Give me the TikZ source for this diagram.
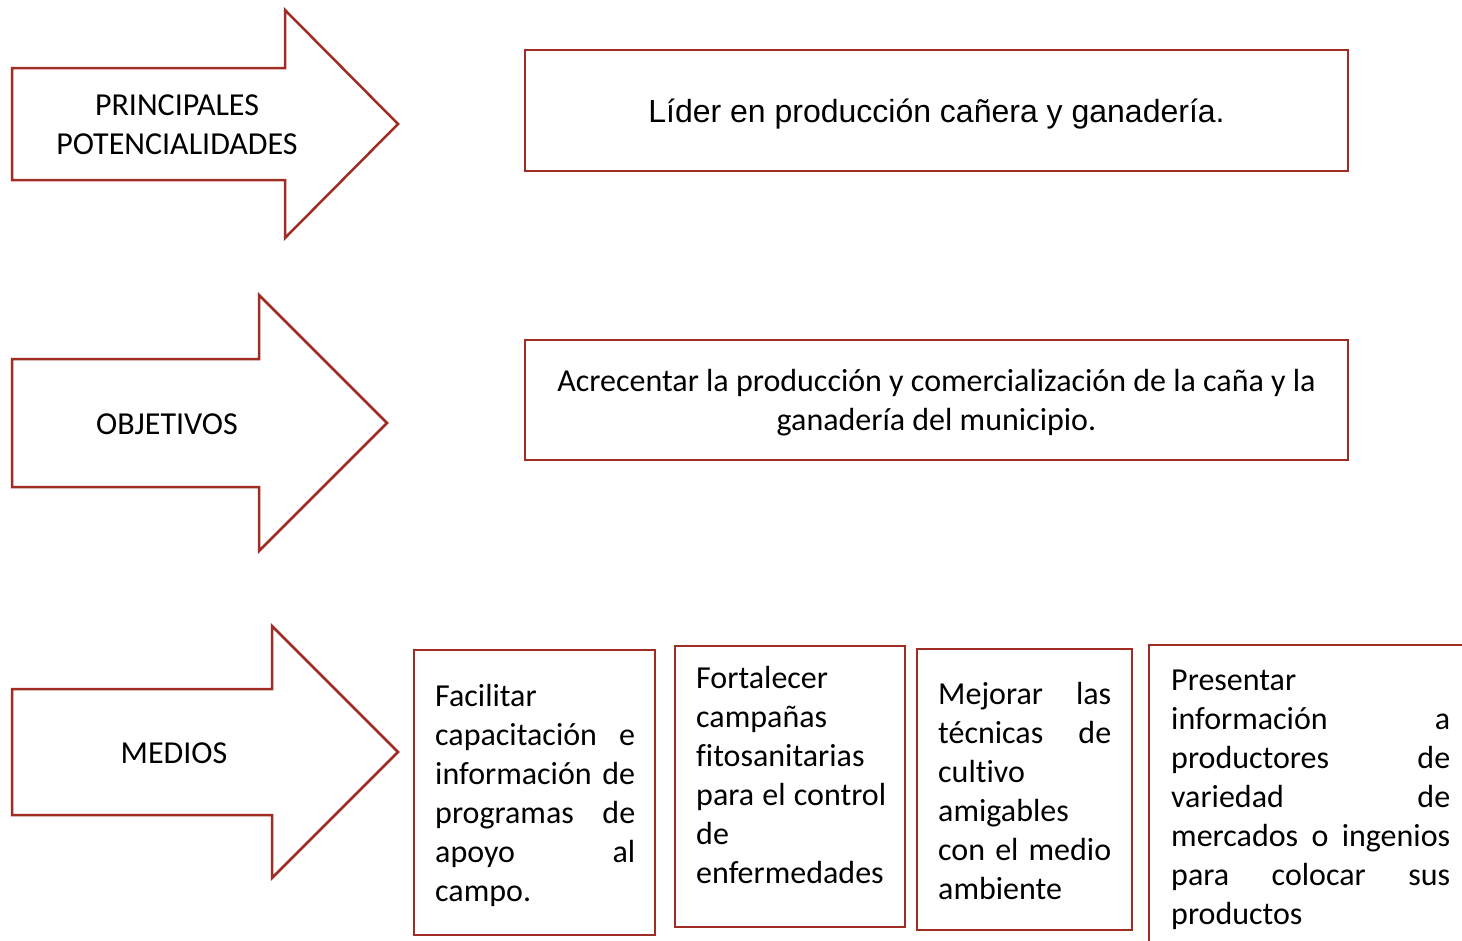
\documentclass[tikz,border=0pt]{standalone}
\usepackage{fontspec}
\setmainfont{Carlito}[Ligatures=NoCommon]
\newfontfamily\arialfont{Liberation Sans}
\usetikzlibrary{positioning}
\definecolor{mred}{RGB}{160,45,35}

\begin{document}
\begin{tikzpicture}[x=1pt,y=-1pt,
  frame/.style={draw=mred,line width=2.5pt,line join=miter},
  box/.style={frame,inner sep=0pt},
  lbl/.style={inner sep=0pt,align=center,font=\fontsize{32}{39}\selectfont},
  txt/.style={inner sep=0pt,anchor=base west,align=left,font=\fontsize{32}{39}\selectfont}
]
\useasboundingbox (0,0) rectangle (1462,940);
\clip (0,0) rectangle (1462,940);

% flechas
\draw[frame] (12,68) -- (285,68) -- (285,10) -- (398,124) -- (285,238) -- (285,180) -- (12,180) -- cycle;
\draw[frame] (12,359) -- (259,359) -- (259,295) -- (387,423) -- (259,551) -- (259,487) -- (12,487) -- cycle;
\draw[frame] (12,689) -- (272,689) -- (272,626) -- (398,752) -- (272,878) -- (272,815) -- (12,815) -- cycle;
\node[lbl] (pot) at (177,124.5) {PRINCIPALES\\POTENCIALIDADES};
\node[lbl] (obj) at (167,424) {OBJETIVOS};
\node[lbl] (med) at (174,753) {MEDIOS};

% cajas
\node[box,minimum width=823pt,minimum height=121pt] (lider) at (936.5,110.5) {};
\node[box,minimum width=823pt,minimum height=120pt] (acre) at (936.5,400) {};
\node[box,minimum width=241pt,minimum height=285pt] (m1) at (534.5,792.5) {};
\node[box,minimum width=230pt,minimum height=281pt] (m2) at (790,786.5) {};
\node[box,minimum width=215pt,minimum height=281pt] (m3) at (1024.5,789.5) {};
\node[box,minimum width=341pt,minimum height=315pt] (m4) at (1319.5,802.5) {};
\node[lbl,font=\arialfont\fontsize{32}{39}\selectfont,yshift=-4pt] (lidertxt) at (lider.center) {Líder en producción cañera y ganadería.};
\node[lbl,yshift=-3pt] (acretxt) at (acre.center) {Acrecentar la producción y comercialización de la caña y la\\ganadería del municipio.};

% textos de los medios
\node[txt,text width=200pt] (t1) at (435,706) {Facilitar\\capacitación\hfill e\\información\hfill de\\programas\hfill de\\apoyo\hfill al\\campo.};
\node[txt,text width=190pt] (t2) at (696,688) {Fortalecer\\campañas\\fitosanitarias\\para\hfill el\hfill control\\de\\enfermedades};
\node[txt,text width=173pt] (t3) at (938,704) {Mejorar\hfill las\\técnicas\hfill de\\cultivo\\amigables\\con\hfill el\hfill medio\\ambiente};
\node[txt,text width=279pt] (t4) at (1171,690) {Presentar\\información\hfill a\\productores\hfill de\\variedad\hfill de\\mercados\hfill o\hfill ingenios\\para\hfill colocar\hfill sus\\productos};
\end{tikzpicture}
\end{document}
